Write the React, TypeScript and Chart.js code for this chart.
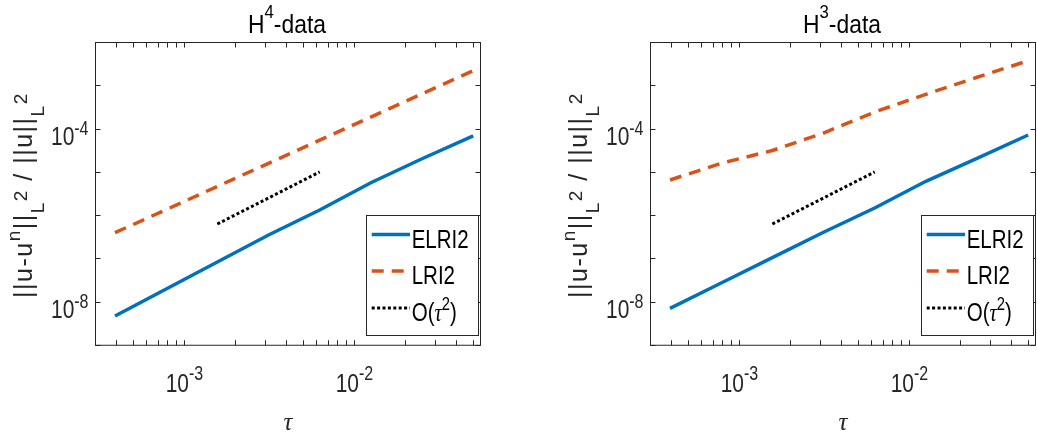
import React, { useEffect, useRef } from "react";
import { Chart, registerables } from "chart.js";

Chart.register(...registerables);

// ---------------- data ----------------
const TAU = [3.90625e-4, 7.8125e-4, 1.5625e-3, 3.125e-3, 6.25e-3, 1.25e-2, 2.5e-2, 5e-2];

const ELRI2_H4 = [4.74e-9, 2.0e-8, 8.4e-8, 3.54e-7, 1.34e-6, 5.73e-6, 2.05e-5, 6.9e-5];
const LRI2_H4 = [4.0e-7, 1.37e-6, 4.71e-6, 1.61e-5, 5.53e-5, 1.89e-4, 6.49e-4, 2.23e-3];

const ELRI2_H3 = [7.14e-9, 2.75e-8, 1.06e-7, 4.09e-7, 1.49e-6, 6.18e-6, 2.1e-5, 7.26e-5];
const LRI2_H3 = [6.62e-6, 1.61e-5, 3.18e-5, 8.08e-5, 2.47e-4, 6.34e-4, 1.57e-3, 3.79e-3];

const ORDER_TAU = [1.5625e-3, 3.125e-3, 6.25e-3];
const ORDER_H4 = [6.35e-7, 2.54e-6, 1.016e-5];
const ORDER_H3 = [6.35e-7, 2.54e-6, 1.016e-5];

const SERIES_NAMES = ["ELRI2", "LRI2", "O(τ^2)"];
const PANEL_TITLE_SUP = ["4", "3"];

const X_MIN = 3.0e-4;
const X_MAX = 5.52e-2;
const Y_MIN = 1e-9;
const Y_MAX = 1e-2;

const X_MAJOR = [1e-3, 1e-2];
const X_MAJOR_EXP = ["-3", "-2"];
const X_MINOR = [
  3e-4, 4e-4, 5e-4, 6e-4, 7e-4, 8e-4, 9e-4,
  2e-3, 3e-3, 4e-3, 5e-3, 6e-3, 7e-3, 8e-3, 9e-3,
  2e-2, 3e-2, 4e-2, 5e-2,
];
const Y_MAJOR = [1e-8, 1e-4];
const Y_MAJOR_EXP = ["-8", "-4"];
const Y_MINOR = [1e-9, 1e-8, 1e-7, 1e-6, 1e-5, 1e-4, 1e-3, 1e-2];

// ---------------- styles ----------------
const BLUE = "#0072BD";
const ORANGE = "#D95319";
const AXIS = "#262626";
const SANS = "'Liberation Sans', Arial, Helvetica, sans-serif";
const SERIF = "'Liberation Serif', 'Times New Roman', serif";
const NARROW = 0.82;

type Part = { t: string; s: number; dy: number; it?: boolean; serif?: boolean };

function fontOf(p: Part) {
  return `${p.it ? "italic " : ""}${p.s}px ${p.serif ? SERIF : SANS}`;
}

function richWidth(ctx: CanvasRenderingContext2D, parts: Part[], sx: number, ls: number) {
  let w = 0;
  let n = 0;
  for (const p of parts) {
    ctx.font = fontOf(p);
    for (const ch of p.t) {
      w += ctx.measureText(ch).width * sx + ls;
      n++;
    }
  }
  return n ? w - ls : 0;
}

function drawRich(
  ctx: CanvasRenderingContext2D,
  parts: Part[],
  x: number,
  y: number,
  align: "left" | "center" | "right",
  sx = 1,
  ls = 0,
  rot = 0
) {
  const W = richWidth(ctx, parts, sx, ls);
  ctx.save();
  ctx.translate(x, y);
  if (rot) ctx.rotate(rot);
  let cx = align === "center" ? -W / 2 : align === "right" ? -W : 0;
  ctx.textBaseline = "alphabetic";
  ctx.textAlign = "left";
  for (const p of parts) {
    ctx.font = fontOf(p);
    for (const ch of p.t) {
      const w = ctx.measureText(ch).width;
      ctx.save();
      ctx.translate(cx, p.dy);
      ctx.scale(sx, 1);
      ctx.fillText(ch, 0, 0);
      ctx.restore();
      cx += w * sx + ls;
    }
  }
  ctx.restore();
}

function legendParts(name: string): Part[] {
  if (name.includes("τ")) {
    const [pre, rest] = name.split("τ");
    const sup = rest.replace("^", "").replace(")", "");
    return [
      { t: pre, s: 25, dy: 0 },
      { t: "τ", s: 25, dy: 0, it: true, serif: true },
      { t: sup, s: 18, dy: -11.5 },
      { t: ")", s: 25, dy: 0 },
    ];
  }
  return [{ t: name, s: 25, dy: 0 }];
}

const Y_LABEL: Part[] = [
  { t: "||u-u", s: 25, dy: 0 },
  { t: "n", s: 19, dy: -12 },
  { t: "||", s: 25, dy: 0 },
  { t: "L", s: 19, dy: 11.5 },
  { t: "2", s: 19, dy: -5 },
  { t: " / ||u||", s: 25, dy: 0 },
  { t: "L", s: 19, dy: 11.5 },
  { t: "2", s: 19, dy: -5 },
];

const snap = (v: number) => Math.round(v - 0.5) + 0.5;

function matlabPlugin(titleSup: string) {
  return {
    id: "matlabAxes",
    afterDraw(chart: any) {
      const ctx: CanvasRenderingContext2D = chart.ctx;
      const ca = chart.chartArea;
      const xs = chart.scales.x;
      const ys = chart.scales.y;
      const TL = 5;
      ctx.save();
      ctx.strokeStyle = AXIS;
      ctx.lineWidth = 1;
      ctx.beginPath();
      for (const v of X_MINOR.concat(X_MAJOR)) {
        const px = snap(xs.getPixelForValue(v));
        ctx.moveTo(px, ca.bottom);
        ctx.lineTo(px, ca.bottom - TL);
        ctx.moveTo(px, ca.top);
        ctx.lineTo(px, ca.top + TL);
      }
      for (const v of Y_MINOR) {
        const py = snap(ys.getPixelForValue(v));
        ctx.moveTo(ca.left, py);
        ctx.lineTo(ca.left + TL, py);
        ctx.moveTo(ca.right, py);
        ctx.lineTo(ca.right - TL, py);
      }
      ctx.stroke();
      ctx.strokeRect(ca.left, ca.top, ca.right - ca.left, ca.bottom - ca.top);

      // tick labels
      ctx.fillStyle = AXIS;
      X_MAJOR.forEach((v, i) => {
        const px = xs.getPixelForValue(v);
        drawRich(
          ctx,
          [
            { t: "10", s: 25.5, dy: 0 },
            { t: X_MAJOR_EXP[i], s: 19.5, dy: -11.5 },
          ],
          px,
          ca.bottom + 46.5,
          "center",
          NARROW
        );
      });
      Y_MAJOR.forEach((v, i) => {
        const py = ys.getPixelForValue(v);
        drawRich(
          ctx,
          [
            { t: "10", s: 25.5, dy: 0 },
            { t: Y_MAJOR_EXP[i], s: 19.5, dy: -10 },
          ],
          ca.left - 7,
          py + 16,
          "right",
          NARROW
        );
      });

      // labels
      ctx.fillStyle = "#000";
      const cx = (ca.left + ca.right) / 2;
      drawRich(
        ctx,
        [
          { t: "H", s: 26, dy: 0 },
          { t: titleSup, s: 19, dy: -15 },
          { t: "-data", s: 26, dy: 0 },
        ],
        cx - 1,
        33.3,
        "center",
        0.88
      );
      ctx.fillStyle = AXIS;
      drawRich(ctx, [{ t: "τ", s: 25, dy: 0, it: true, serif: true }], cx, 430, "center");
      drawRich(ctx, Y_LABEL, ca.left - 63.5, (ca.top + ca.bottom) / 2 + 2, "center", 1, 1.5, -Math.PI / 2);

      // legend
      const lx0 = ca.right - 114;
      const lx1 = ca.right - 2.5;
      const ly0 = ca.top + 172.5;
      const ly1 = ca.top + 292.5;
      ctx.fillStyle = "#fff";
      ctx.fillRect(lx0, ly0, lx1 - lx0, ly1 - ly0);
      ctx.strokeStyle = AXIS;
      ctx.lineWidth = 1;
      ctx.strokeRect(snap(lx0), snap(ly0), Math.round(lx1 - lx0), Math.round(ly1 - ly0));
      const rows = [192, 228.5, 265.5];
      chart.data.datasets.forEach((ds: any, i: number) => {
        const y = ca.top + rows[i];
        ctx.save();
        ctx.strokeStyle = ds.borderColor;
        ctx.lineWidth = ds.borderWidth;
        ctx.setLineDash(ds.borderDash || []);
        ctx.lineCap = "butt";
        ctx.beginPath();
        ctx.moveTo(ca.right - 108.8, y);
        ctx.lineTo(ca.right - 70.5, y);
        ctx.stroke();
        ctx.restore();
        ctx.fillStyle = "#000";
        drawRich(ctx, legendParts(SERIES_NAMES[i]), ca.right - 68.8, y + 13, "left", NARROW);
      });
      ctx.restore();
    },
  };
}

function pts(xs: number[], ys: number[]) {
  return xs.map((x, i) => ({ x, y: ys[i] }));
}

type PanelDef = {
  sup: string;
  elri2: number[];
  lri2: number[];
  order: number[];
  left: number;
  width: number;
  padL: number;
  padR: number;
};

function Panel({ def }: { def: PanelDef }) {
  const ref = useRef<HTMLCanvasElement>(null);
  useEffect(() => {
    const chart = new Chart(ref.current as HTMLCanvasElement, {
      type: "line",
      data: {
        datasets: [
          {
            label: SERIES_NAMES[0],
            data: pts(TAU, def.elri2),
            borderColor: BLUE,
            borderWidth: 3.5,
            pointRadius: 0,
            fill: false,
            tension: 0,
          },
          {
            label: SERIES_NAMES[1],
            data: pts(TAU, def.lri2),
            borderColor: ORANGE,
            borderWidth: 3.5,
            borderDash: [12, 8],
            borderCapStyle: "butt",
            pointRadius: 0,
            fill: false,
            tension: 0,
          },
          {
            label: SERIES_NAMES[2],
            data: pts(ORDER_TAU, def.order),
            borderColor: "#000",
            borderWidth: 3,
            borderDash: [3, 2.4],
            borderCapStyle: "butt",
            pointRadius: 0,
            fill: false,
            tension: 0,
          },
        ],
      } as any,
      options: {
        animation: false,
        responsive: false,
        events: [],
        layout: { padding: { left: def.padL, right: def.padR, top: 42.5, bottom: 92.75 } },
        scales: {
          x: { type: "logarithmic", min: X_MIN, max: X_MAX, display: false },
          y: { type: "logarithmic", min: Y_MIN, max: Y_MAX, display: false },
        },
        plugins: {
          legend: { display: false },
          tooltip: { enabled: false },
          title: { display: false },
        },
      } as any,
      plugins: [matlabPlugin(def.sup)],
    });
    return () => chart.destroy();
  }, []);
  return (
    <canvas
      ref={ref}
      width={def.width}
      height={438}
      style={{ position: "absolute", left: def.left, top: 0, width: def.width, height: 438 }}
    />
  );
}

const PANELS: PanelDef[] = [
  { sup: PANEL_TITLE_SUP[0], elri2: ELRI2_H4, lri2: LRI2_H4, order: ORDER_H4, left: 0, width: 520, padL: 95.5, padR: 39.5 },
  { sup: PANEL_TITLE_SUP[1], elri2: ELRI2_H3, lri2: LRI2_H3, order: ORDER_H3, left: 520, width: 517, padL: 130.5, padR: 1.5 },
];

export default function App() {
  return (
    <div
      style={{
        position: "fixed",
        left: 0,
        top: 0,
        width: 1037,
        height: 438,
        background: "#fff",
        overflow: "hidden",
      }}
    >
      {PANELS.map((p, i) => (
        <Panel key={i} def={p} />
      ))}
    </div>
  );
}
